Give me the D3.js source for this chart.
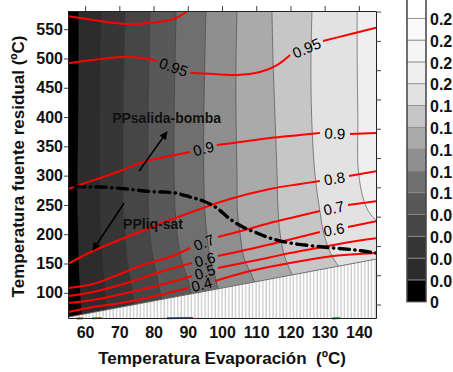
<!DOCTYPE html>
<html>
<head>
<meta charset="utf-8">
<script src="https://cdn.jsdelivr.net/npm/d3@7"></script>
<style>
  body { margin: 0; background: #fff; }
  svg { display: block; font-family: "Liberation Sans", Arial, sans-serif; }
</style>
</head>
<body>
<svg id="chart" width="453" height="372"></svg>
<script>
// ---- data ----
const levels = [0, 0.02, 0.04, 0.06, 0.08, 0.10, 0.12, 0.14, 0.16, 0.18, 0.20, 0.22, 0.24, 0.26];
const levelLabels = ["0", "0.0", "0.0", "0.0", "0.0", "0.1", "0.1", "0.1", "0.1", "0.1", "0.2", "0.2", "0.2", "0.2"];
const bandColors = ["#000000", "#2c2c2c", "#363636", "#464646", "#585858", "#6f6f6f", "#8f8f8f",
                    "#aaaaaa", "#c6c6c6", "#e2e2e2", "#efefef", "#f5f5f5", "#fafafa", "#ffffff"];

// band boundaries (levels 0.02 .. 0.20): evaporation temp at each source temp
const boundaryY = [581, 500, 400, 300, 240, 200, 160, 120, 57];
const boundaryX = [
  [58.2, 58.2, 58.1, 57.9, 57.9, 58.1, 58.2, 58.5, 59.1],
  [64.9, 64.6, 64.4, 64.4, 64.5, 64.8, 65.2, 65.8, 66.7],
  [71.7, 71.4, 71.1, 71.1, 71.2, 71.7, 72.2, 73.4, 74.9],
  [79.0, 78.7, 78.4, 78.4, 78.5, 79.0, 79.8, 81.3, 83.3],
  [86.6, 86.3, 86.0, 86.0, 86.3, 86.9, 88.0, 90.1, 92.4],
  [95.3, 95.0, 94.7, 94.7, 95.0, 95.6, 96.5, 98.3, 100.6],
  [104.4, 104.1, 104.1, 104.4, 104.5, 105.3, 106.4, 109.4, 112.6],
  [114.6, 114.9, 115.5, 116.1, 116.4, 117.0, 118.4, 121.3, 125.1],
  [126.3, 126.0, 126.2, 127.2, 128.6, 129.8, 132.4, 137.4, 143.3],
  [139.5, 139.5, 139.7, 140.0, 142.7, 149.1, 152.0, 154.9, 157.9]
];

// red isolines, split where a label sits
const iso095top = [[[55, 572], [64.4, 564], [71.7, 559], [79, 560.5], [85.7, 567], [89.2, 578], [90.7, 586]]];
const iso095 = [
  [[55, 492], [62.3, 497.4], [71.1, 502.5], [76.9, 500.8], [81, 495.6]],
  [[90.7, 475.2], [97.4, 473.5], [104.4, 471.8], [111.1, 476.9], [116.1, 488.8], [119.9, 505.9]],
  [[129.5, 529.8], [136.5, 540], [144.7, 552], [146, 554]]
];
const iso09 = [
  [[55, 277], [59.1, 285.7], [64.4, 296], [70.2, 307.9], [76.9, 323.3], [83.4, 331.8], [90.7, 340.3]],
  [[98.5, 352.3], [105.3, 357.4], [114, 364.2], [122.8, 369.3], [128.6, 372.8]],
  [[137.4, 371.1], [146, 372.8]]
];
const iso08 = [
  [[55, 149.2], [62.3, 171.4], [72.2, 195.3], [81, 215.7], [87.2, 229.4], [93.6, 243], [102.3, 260.1],
   [114, 277.2], [122.8, 285.7], [128.6, 290.8]],
  [[137.1, 299.4], [146, 308.5]]
];
const iso07 = [
  [[55, 108.2], [62.3, 115], [67.3, 125.3], [76.9, 147.5], [84.8, 161.1], [90.7, 176.5]],
  [[98.8, 195.3], [106.7, 207.2], [114, 219.1], [121.3, 229.4], [128.6, 239.6]],
  [[136.8, 249.9], [146, 257]]
];
const iso06 = [
  [[55, 94.5], [62.3, 101.4], [72.2, 116.7], [81.9, 135.5], [91.2, 150.9]],
  [[98.8, 162.8], [113.2, 181.6], [128.6, 203.8]],
  [[136.8, 212.3], [146, 223.5]]
];
const iso05 = [
  [[55, 82.6], [62.3, 87.7], [72.2, 99.7], [81.9, 113.3], [91.2, 128.7]],
  [[98.8, 142.3], [113.2, 159.4], [119.9, 167.9], [127.8, 176.5], [137.4, 186.7], [146, 194]]
];
const iso04 = [
  [[55, 67.2], [62.3, 75.8], [72.2, 84.3], [81.9, 96.3], [90.1, 108.2]],
  [[98, 120.2], [108.2, 137.2], [119.9, 150.9], [132.4, 162.8], [146, 168.2]]
];
const isolines = [
  { label: "0.95", segs: iso095top, labelled: false },
  { label: "0.95", segs: iso095, labelled: true },
  { label: "0.9", segs: iso09, labelled: true },
  { label: "0.8", segs: iso08, labelled: true },
  { label: "0.7", segs: iso07, labelled: true },
  { label: "0.6", segs: iso06, labelled: true },
  { label: "0.5", segs: iso05, labelled: true },
  { label: "0.4", segs: iso04, labelled: true }
];
// small red pieces showing along the bottom edge
const edgeBits = [
  [[57.6, 56.2], [59.4, 56.4]],
  [[62.0, 56.4], [64.9, 56.8]],
  [[83.9, 56.6], [91.5, 57.2]],
  [[132.2, 56.2], [134.5, 56.8]]
];

// PP boundary (dash-dot)
const ppLine = [[57, 282], [60, 280.6], [64.4, 280.6], [72.2, 277.2], [79, 272.9], [82.8, 272.1], [86.3, 270.4],
  [90.7, 263.5], [94.5, 256.7], [98.5, 244.7], [102.3, 226], [106.1, 212.3], [110.2, 202.1], [114, 193.5],
  [119.9, 185], [129.5, 178.2], [138.9, 173.1], [145, 167.9]];

// infeasible region edge
const hatchEdge = [[55, 58.5], [145, 157.5]];

const annotations = [
  { text: "PPsalida-bomba", x: 67.9, y: 389.8, from: [75.8, 307.9], to: [83.9, 374.5] },
  { text: "PPliq-sat", x: 71.1, y: 208.9, from: [71.4, 253.3], to: [62.3, 173.1] }
];

const xTicks = [60, 70, 80, 90, 100, 110, 120, 130, 140];
const yTicks = [100, 150, 200, 250, 300, 350, 400, 450, 500, 550];
const yTicksRight = [80, 130, 180, 230, 280, 330, 380, 430, 480, 530, 580];

// ---- chart ----
const svg = d3.select("#chart");
const x = d3.scaleLinear().domain([55, 145]).range([68, 376]);
const y = d3.scaleLinear().domain([57, 581]).range([318, 11]);
const [x0, x1] = x.range();
const [yb, yt] = y.range();

const defs = svg.append("defs");
defs.append("clipPath").attr("id", "plot-clip")
  .append("rect").attr("x", x0).attr("y", yt).attr("width", x1 - x0).attr("height", yb - yt);

const hatch = defs.append("pattern").attr("id", "hatch")
  .attr("patternUnits", "userSpaceOnUse").attr("width", 3.4).attr("height", 10);
hatch.append("rect").attr("width", 3.4).attr("height", 10).attr("fill", "#fff");
hatch.append("line").attr("x1", 1).attr("x2", 1).attr("y1", 0).attr("y2", 10)
  .attr("stroke", "#b4b4b4").attr("stroke-width", 0.9);

defs.append("marker").attr("id", "arrow")
  .attr("viewBox", "0 0 10 10").attr("refX", 9).attr("refY", 5)
  .attr("markerWidth", 9).attr("markerHeight", 8).attr("markerUnits", "userSpaceOnUse")
  .attr("orient", "auto")
  .append("path").attr("d", "M0,0L10,5L0,10Z").attr("fill", "#000");

const plot = svg.append("g").attr("clip-path", "url(#plot-clip)");

// top band as background, then lower bands on top
plot.append("rect").attr("x", x0).attr("y", yt).attr("width", x1 - x0).attr("height", yb - yt)
  .attr("fill", bandColors[10]);

const bandArea = d3.area()
  .y(d => y(d[1]))
  .x0(x0 - 2)
  .x1(d => x(d[0]))
  .curve(d3.curveCatmullRom);
const boundaryLine = d3.line()
  .x(d => x(d[0]))
  .y(d => y(d[1]))
  .curve(d3.curveCatmullRom);

const boundaries = boundaryX.map(row => row.map((v, i) => [v, boundaryY[i]]));
for (let i = boundaries.length - 1; i >= 0; i--) {
  plot.append("path").attr("d", bandArea(boundaries[i])).attr("fill", bandColors[i]);
}
boundaries.forEach(b => {
  plot.append("path").attr("d", boundaryLine(b))
    .attr("fill", "none").attr("stroke", "#3a3a3a").attr("stroke-width", 0.7).attr("stroke-opacity", 0.8);
});

// hatched region
const hatchPoly = [hatchEdge[0], hatchEdge[1], [145, 57], [55, 57]];
plot.append("path")
  .attr("d", d3.line().x(d => x(d[0])).y(d => y(d[1]))(hatchPoly) + "Z")
  .attr("fill", "url(#hatch)");
plot.append("path")
  .attr("d", d3.line().x(d => x(d[0])).y(d => y(d[1]))(hatchEdge))
  .attr("stroke", "#555").attr("stroke-width", 0.8);

// red isolines
const redLine = d3.line().x(d => x(d[0])).y(d => y(d[1])).curve(d3.curveCatmullRom);
isolines.forEach(iso => {
  iso.segs.forEach(seg => {
    plot.append("path").attr("d", redLine(seg))
      .attr("fill", "none").attr("stroke", "#ff0000").attr("stroke-width", 2);
  });
});
edgeBits.forEach(seg => {
  svg.append("path").attr("d", redLine(seg))
    .attr("fill", "none").attr("stroke", "#ff0000").attr("stroke-width", 1.9);
});

// isoline labels in the gaps
isolines.filter(d => d.labelled).forEach(iso => {
  for (let k = 0; k < iso.segs.length - 1; k++) {
    const a = iso.segs[k][iso.segs[k].length - 1];
    const b = iso.segs[k + 1][0];
    const ax = x(a[0]), ay = y(a[1]), bx = x(b[0]), by = y(b[1]);
    const cx = (ax + bx) / 2, cy = (ay + by) / 2;
    const ang = Math.atan2(by - ay, bx - ax) * 180 / Math.PI;
    svg.append("text")
      .attr("transform", `translate(${cx},${cy}) rotate(${ang})`)
      .attr("text-anchor", "middle").attr("dy", "0.36em")
      .attr("font-size", 15).attr("fill", "#000")
      .text(iso.label);
  }
});

// dash-dot line
plot.append("path").attr("d", redLine(ppLine))
  .attr("fill", "none").attr("stroke", "#000").attr("stroke-width", 3.4)
  .attr("stroke-linecap", "round").attr("stroke-dasharray", "10,5.5,0.3,5.5");

// annotations
annotations.forEach(a => {
  svg.append("line")
    .attr("x1", x(a.from[0])).attr("y1", y(a.from[1]))
    .attr("x2", x(a.to[0])).attr("y2", y(a.to[1]))
    .attr("stroke", "#000").attr("stroke-width", 1.5).attr("marker-end", "url(#arrow)");
  svg.append("text").attr("x", x(a.x)).attr("y", y(a.y))
    .attr("font-size", 14).attr("font-weight", "bold").attr("fill", "#111")
    .text(a.text);
});

// axes
const axisLeft = svg.append("g").attr("transform", `translate(${x0},0)`)
  .call(d3.axisLeft(y).tickValues(yTicks).tickSize(4).tickPadding(1).tickSizeOuter(0));
const axisBottom = svg.append("g").attr("transform", `translate(0,${yb})`)
  .call(d3.axisBottom(x).tickValues(xTicks).tickSize(0).tickPadding(9).tickSizeOuter(0));
svg.append("g").attr("transform", `translate(0,${yt})`)
  .call(d3.axisTop(x).tickValues(xTicks).tickSize(5).tickFormat("").tickSizeOuter(0));
svg.append("g").attr("transform", `translate(${x1},0)`)
  .call(d3.axisRight(y).tickValues(yTicksRight).tickSize(5).tickFormat("").tickSizeOuter(0));

svg.selectAll(".domain").attr("stroke", "#222");
svg.selectAll(".tick line").attr("stroke", "#444");
[axisLeft, axisBottom].forEach(g => g.selectAll("text")
  .attr("font-size", 16).attr("font-weight", "bold").attr("fill", "#111")
  .attr("font-family", "Liberation Sans, Arial, sans-serif"));

svg.append("text")
  .attr("x", (x0 + x1) / 2).attr("y", 364)
  .attr("text-anchor", "middle").attr("font-size", 17).attr("font-weight", "bold").attr("fill", "#111")
  .attr("xml:space", "preserve")
  .text("Temperatura Evaporación  (ºC)");
svg.append("text")
  .attr("transform", `translate(24,${(yt + yb) / 2 + 2}) rotate(-90)`)
  .attr("text-anchor", "middle").attr("font-size", 17).attr("font-weight", "bold").attr("fill", "#111")
  .text("Temperatura fuente residual (ºC)");

// colour bar
const cb = d3.scaleLinear().domain([0, 0.26]).range([301.7, 18.3]);
const cbX = 407, cbW = 19;
const cbg = svg.append("g");
levels.forEach((lv, i) => {
  const top = cb(lv + 0.02), bot = cb(lv);
  cbg.append("rect").attr("x", cbX).attr("y", top).attr("width", cbW).attr("height", bot - top)
    .attr("fill", bandColors[i]).attr("stroke", "#8a8a8a").attr("stroke-width", 0.8);
});
cbg.append("rect").attr("x", cbX).attr("y", cb(0.28)).attr("width", cbW).attr("height", cb(0) - cb(0.28))
  .attr("fill", "none").attr("stroke", "#333").attr("stroke-width", 1.2);
levels.forEach((lv, i) => {
  cbg.append("text").attr("x", cbX + cbW + 4).attr("y", cb(lv) + 1).attr("dy", "0.36em")
    .attr("font-size", 16).attr("font-weight", "bold").attr("fill", "#111")
    .text(levelLabels[i]);
});
</script>
</body>
</html>
